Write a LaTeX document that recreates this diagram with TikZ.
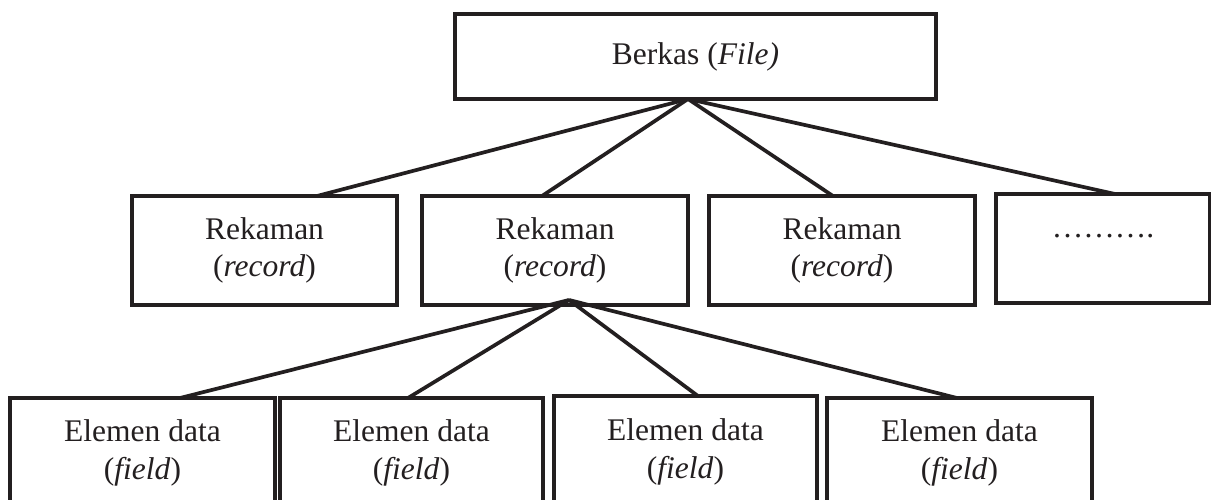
\documentclass[tikz,border=0pt]{standalone}
\usepackage{fontspec}
\setmainfont{Liberation Serif}
\usetikzlibrary{calc}
\definecolor{ink}{HTML}{231F20}
\tikzset{
  box/.style={draw=ink, line width=3.8pt, rectangle, outer sep=0pt, inner sep=0pt,
    text=ink, align=center, font=\fontsize{31.5}{37.5}\selectfont},
  link/.style={draw=ink, line width=3.7pt},
}
\begin{document}
\begin{tikzpicture}[x=1pt, y=-1pt]
  \useasboundingbox (0,0) rectangle (1211,500);
  \clip (0,0) rectangle (1211,500);
  \fill[white] (0,0) rectangle (1211,500);

  % file level
  \node[box, minimum width=481pt, minimum height=85pt] (file) at (695.5,56.5) {Berkas (\textit{File)}};

  % record level
  \node[box, minimum width=265pt, minimum height=109pt] (rec1) at (264.5,250.5) {Rekaman\\(\textit{record})};
  \node[box, minimum width=266pt, minimum height=109pt] (rec2) at (555,250.5) {Rekaman\\(\textit{record})};
  \node[box, minimum width=266pt, minimum height=109pt] (rec3) at (842,250.5) {Rekaman\\(\textit{record})};
  \node[box, minimum width=214pt, minimum height=109pt] (rec4) at (1103,248.5) {\strut……….\\\strut};

  % field level (boxes run past the lower edge)
  \node[box, anchor=north, minimum width=265pt, minimum height=110pt] (fld1) at (142.5,398) {Elemen data\\(\textit{field})};
  \node[box, anchor=north, minimum width=263pt, minimum height=110pt] (fld2) at (411.5,398) {Elemen data\\(\textit{field})};
  \node[box, anchor=north, minimum width=263pt, minimum height=112pt] (fld3) at (685.5,396) {Elemen data\\(\textit{field})};
  \node[box, anchor=north, minimum width=265pt, minimum height=110pt] (fld4) at (959.5,398) {Elemen data\\(\textit{field})};

  % branching points
  \coordinate (fileroot) at ($(file.south)+(-7.5,0)$);
  \coordinate (recroot) at ($(rec2.south)+(14,-5)$);

  % file -> records
  \draw[link] (fileroot) -- ($(rec1.north)+(52.5,0)$);
  \draw[link] (fileroot) -- ($(rec2.north)+(-13,0)$);
  \draw[link] (fileroot) -- ($(rec3.north)+(-9,0)$);
  \draw[link] (fileroot) -- ($(rec4.north)+(12,0)$);

  % record -> fields
  \draw[link] (recroot) -- ($(fld1.north)+(37.5,0)$);
  \draw[link] (recroot) -- ($(fld2.north)+(-3.5,0)$);
  \draw[link] (recroot) -- ($(fld3.north)+(12.5,0)$);
  \draw[link] (recroot) -- ($(fld4.north)+(-2.5,0)$);
\end{tikzpicture}
\end{document}
